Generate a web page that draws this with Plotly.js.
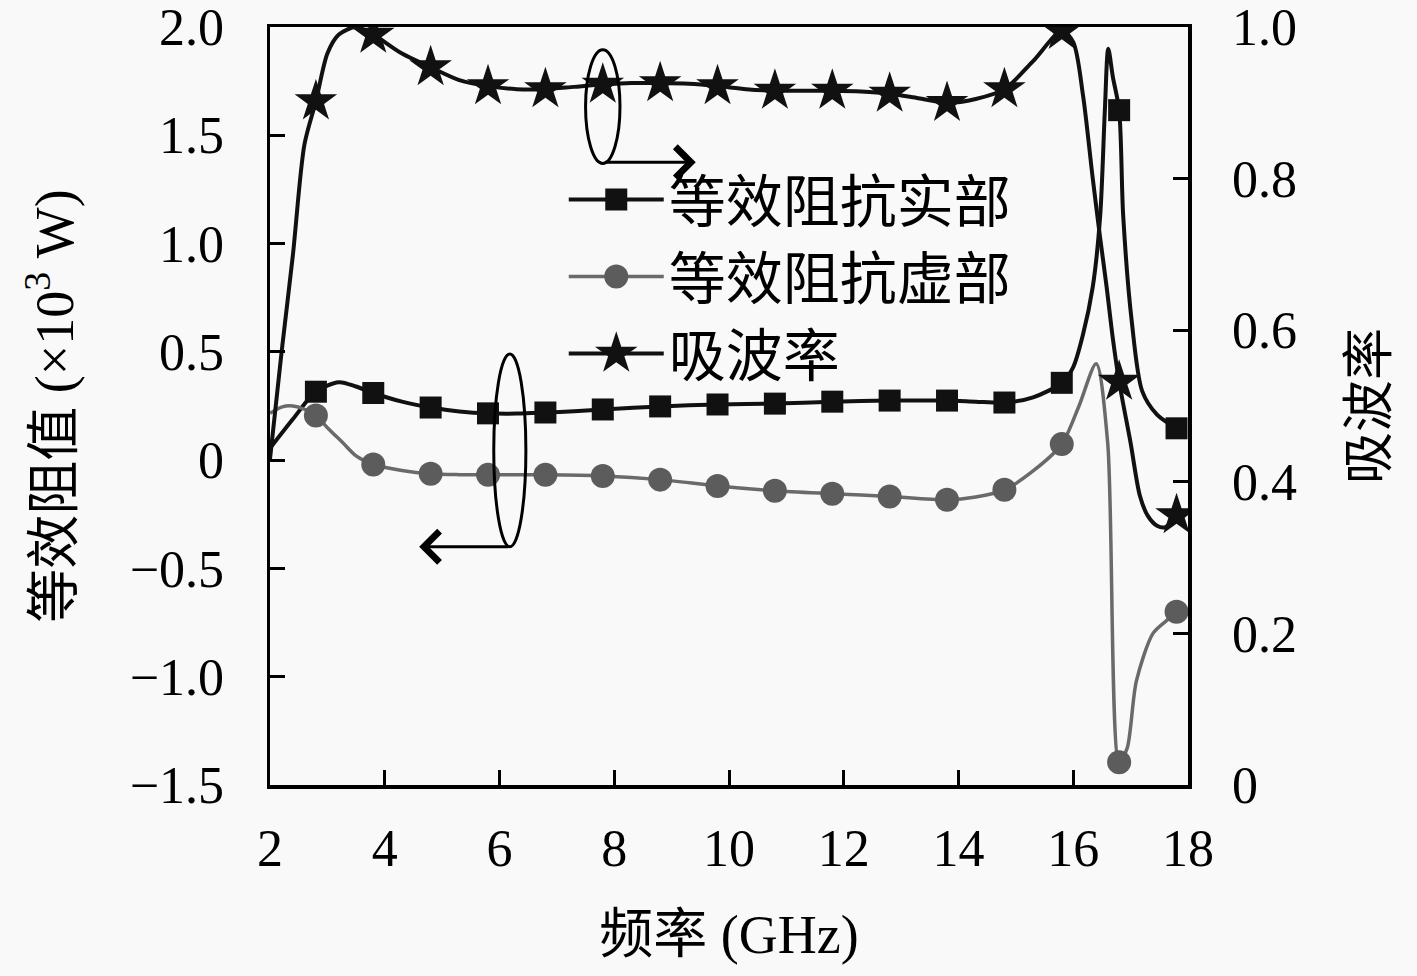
<!DOCTYPE html>
<html>
<head>
<meta charset="utf-8">
<script src="https://cdn.plot.ly/plotly-3.0.1.min.js"></script>
<style>
  body { margin: 0; background: #f9f9f9; }
  #chart { width: 1417px; height: 976px; }
</style>
</head>
<body>
<div id="chart"></div>
<script>
// marker positions (every 1 GHz from 2.8)
var freqMarks = [2.8, 3.8, 4.8, 5.8, 6.8, 7.8, 8.8, 9.8, 10.8, 11.8, 12.8, 13.8, 14.8, 15.8, 16.8, 17.8];
var reMarks = [0.316, 0.31, 0.243, 0.216, 0.22, 0.234, 0.248, 0.257, 0.261, 0.27, 0.275, 0.275, 0.266, 0.357, 1.616, 0.147];
var imMarks = [0.206, -0.02, -0.063, -0.068, -0.068, -0.073, -0.09, -0.119, -0.141, -0.155, -0.168, -0.183, -0.137, 0.074, -1.395, -0.70];
var absMarks = [0.902, 0.99, 0.947, 0.922, 0.918, 0.924, 0.926, 0.922, 0.916, 0.916, 0.912, 0.90, 0.918, 0.995, 0.532, 0.356];

// curves
var reX = [2.0, 2.4, 2.8, 3.2, 3.5, 3.8, 4.3, 4.8, 5.3, 5.8, 6.3, 6.8, 7.3, 7.8, 8.8, 9.8, 10.8, 11.8, 12.8, 13.8, 14.3, 14.8, 15.3, 15.8, 16.0, 16.17, 16.34, 16.47, 16.55, 16.61, 16.69, 16.8, 16.87, 17.02, 17.2, 17.46, 17.8];
var reY = [0.055, 0.19, 0.316, 0.36, 0.34, 0.31, 0.27, 0.243, 0.225, 0.216, 0.215, 0.22, 0.226, 0.234, 0.248, 0.257, 0.261, 0.27, 0.275, 0.275, 0.27, 0.266, 0.29, 0.357, 0.43, 0.58, 0.80, 1.13, 1.61, 1.90, 1.77, 1.616, 1.13, 0.64, 0.32, 0.21, 0.147];

var imX = [2.0, 2.2, 2.4, 2.6, 2.8, 3.0, 3.27, 3.5, 3.8, 4.3, 4.8, 5.3, 5.8, 6.8, 7.8, 8.8, 9.8, 10.8, 11.8, 12.8, 13.8, 14.3, 14.8, 15.3, 15.8, 16.1, 16.4, 16.6, 16.8, 16.94, 17.1, 17.39, 17.63, 17.8];
var imY = [0.216, 0.245, 0.25, 0.235, 0.206, 0.15, 0.08, 0.02, -0.02, -0.048, -0.063, -0.067, -0.068, -0.068, -0.073, -0.09, -0.119, -0.141, -0.155, -0.168, -0.183, -0.17, -0.137, -0.05, 0.074, 0.25, 0.445, 0.08, -1.395, -1.33, -1.02, -0.80, -0.74, -0.70];

var absX = [2.0, 2.2, 2.4, 2.6, 2.8, 3.0, 3.2, 3.5, 3.8, 4.3, 4.8, 5.3, 5.8, 6.3, 6.8, 7.3, 7.8, 8.3, 8.8, 9.3, 9.8, 10.3, 10.8, 11.3, 11.8, 12.3, 12.8, 13.3, 13.8, 14.3, 14.8, 15.3, 15.8, 16.0, 16.17, 16.34, 16.46, 16.58, 16.69, 16.8, 17.0, 17.16, 17.3, 17.46, 17.6, 17.8];
var absY = [0.43, 0.57, 0.70, 0.845, 0.902, 0.965, 0.99, 1.0, 0.99, 0.965, 0.947, 0.93, 0.922, 0.918, 0.918, 0.921, 0.924, 0.926, 0.926, 0.925, 0.922, 0.918, 0.916, 0.916, 0.916, 0.915, 0.912, 0.906, 0.90, 0.905, 0.918, 0.955, 0.995, 0.98, 0.91, 0.80, 0.727, 0.658, 0.589, 0.532, 0.451, 0.382, 0.355, 0.342, 0.34, 0.356];

var seriesNames = ['等效阻抗实部', '等效阻抗虚部', '吸波率'];

var xTicks = [2, 4, 6, 8, 10, 12, 14, 16, 18];
var yTicks = [2.0, 1.5, 1.0, 0.5, 0, -0.5, -1.0, -1.5];
var yTickText = ['2.0', '1.5', '1.0', '0.5', '0', '\u22120.5', '\u22121.0', '\u22121.5'];
var y2Ticks = [1.0, 0.8, 0.6, 0.4, 0.2, 0];
var y2TickText = ['1.0', '0.8', '0.6', '0.4', '0.2', '0'];

var black = '#111111', grey = '#6a6a6a', greyMark = '#5c5c5c';
var serif = 'Liberation Serif, Noto Sans CJK SC, serif';

// plotly caps legend markers at 16px, so they get scaled up after drawing
var legendMarkerScale = [22 / 16, 24 / 16, 32 / 16];

var traces = [
    { x: reX, y: reY, mode: 'lines', line: { color: black, width: 4, shape: 'spline', smoothing: 0.8 }, showlegend: false, hoverinfo: 'skip' },
    { x: imX, y: imY, mode: 'lines', line: { color: grey, width: 3.5, shape: 'spline', smoothing: 0.8 }, showlegend: false, hoverinfo: 'skip' },
    { x: absX, y: absY, yaxis: 'y2', mode: 'lines', line: { color: black, width: 4, shape: 'spline', smoothing: 0.8 }, showlegend: false, hoverinfo: 'skip' },
    { x: freqMarks, y: reMarks, mode: 'markers', marker: { symbol: 'square', size: 22, color: black }, showlegend: false },
    { x: freqMarks, y: imMarks, mode: 'markers', marker: { symbol: 'circle', size: 24, color: greyMark }, showlegend: false },
    { x: freqMarks, y: absMarks, yaxis: 'y2', mode: 'markers', marker: { symbol: 'star', size: 32, color: black }, showlegend: false },
    // legend entries
    { x: [null], y: [null], name: seriesNames[0], mode: 'lines+markers', line: { color: black, width: 4 }, marker: { symbol: 'square', size: 16, color: black } },
    { x: [null], y: [null], name: seriesNames[1], mode: 'lines+markers', line: { color: grey, width: 3.5 }, marker: { symbol: 'circle', size: 16, color: greyMark } },
    { x: [null], y: [null], name: seriesNames[2], mode: 'lines+markers', line: { color: black, width: 4 }, marker: { symbol: 'star', size: 16, color: black } }
];

var layout = {
    width: 1417,
    height: 976,
    paper_bgcolor: '#f9f9f9',
    plot_bgcolor: '#f9f9f9',
    margin: { l: 270, r: 229, t: 27, b: 191 },
    font: { family: serif, color: '#000', size: 52 },
    showlegend: true,
    legend: {
        x: 0.32, y: 0.83, xanchor: 'left', yanchor: 'top',
        bgcolor: 'rgba(0,0,0,0)',
        itemwidth: 95,
        font: { family: 'Noto Sans CJK SC, sans-serif', size: 57, color: '#000' }
    },
    xaxis: {
        range: [2, 18],
        tickvals: xTicks,
        ticks: 'inside', ticklen: 15, tickwidth: 3, tickcolor: '#000',
        ticklabelstandoff: 15, ticklabeloverflow: 'allow',
        showline: true, linewidth: 3.5, linecolor: '#000', mirror: true,
        showgrid: false, zeroline: false,
        tickfont: { family: serif, size: 52 },
        title: { text: '频率 (GHz)', standoff: 40, font: { family: serif, size: 54 } }
    },
    yaxis: {
        range: [-1.5, 2.0],
        tickvals: yTicks, ticktext: yTickText,
        ticks: 'inside', ticklen: 15, tickwidth: 3, tickcolor: '#000',
        ticklabelstandoff: 32, ticklabeloverflow: 'allow',
        showline: true, linewidth: 3.5, linecolor: '#000',
        showgrid: false, zeroline: false,
        tickfont: { family: serif, size: 52 },
        title: { text: '等效阻值 (×10<sup>3</sup> W)', standoff: 40, font: { family: serif, size: 54 } }
    },
    yaxis2: {
        overlaying: 'y', side: 'right',
        range: [0, 1.0],
        tickvals: y2Ticks, ticktext: y2TickText,
        ticks: 'inside', ticklen: 15, tickwidth: 3, tickcolor: '#000',
        ticklabelstandoff: 30, ticklabeloverflow: 'allow',
        showline: true, linewidth: 3.5, linecolor: '#000',
        showgrid: false, zeroline: false,
        tickfont: { family: serif, size: 52 },
        title: { text: '吸波率', standoff: 55, font: { family: serif, size: 52 } }
    },
    shapes: [
        { type: 'circle', xref: 'x', yref: 'y', x0: 7.5, x1: 8.1, y0: 1.37, y1: 1.895, line: { color: '#000', width: 3 } },
        { type: 'circle', xref: 'x', yref: 'y', x0: 5.9, x1: 6.46, y0: -0.40, y1: 0.49, line: { color: '#000', width: 3 } }
    ],
    annotations: [
        { x: 9.42, y: 1.375, ax: 7.82, ay: 1.375, xref: 'x', yref: 'y', axref: 'x', ayref: 'y',
          text: '', showarrow: true, arrowhead: 4, arrowsize: 2, arrowwidth: 3, arrowcolor: '#000' },
        { x: 4.6, y: -0.40, ax: 6.18, ay: -0.40, xref: 'x', yref: 'y', axref: 'x', ayref: 'y',
          text: '', showarrow: true, arrowhead: 4, arrowsize: 2, arrowwidth: 3, arrowcolor: '#000' }
    ]
};

Plotly.newPlot('chart', traces, layout, { displayModeBar: false, staticPlot: true }).then(function (gd) {
    var items = gd.querySelectorAll('.legend .traces');
    items.forEach(function (item, i) {
        item.querySelectorAll('path.scatterpts').forEach(function (p) {
            var t = p.getAttribute('transform') || '';
            p.setAttribute('transform', t + ' scale(' + legendMarkerScale[i] + ')');
        });
    });
});
</script>
</body>
</html>
